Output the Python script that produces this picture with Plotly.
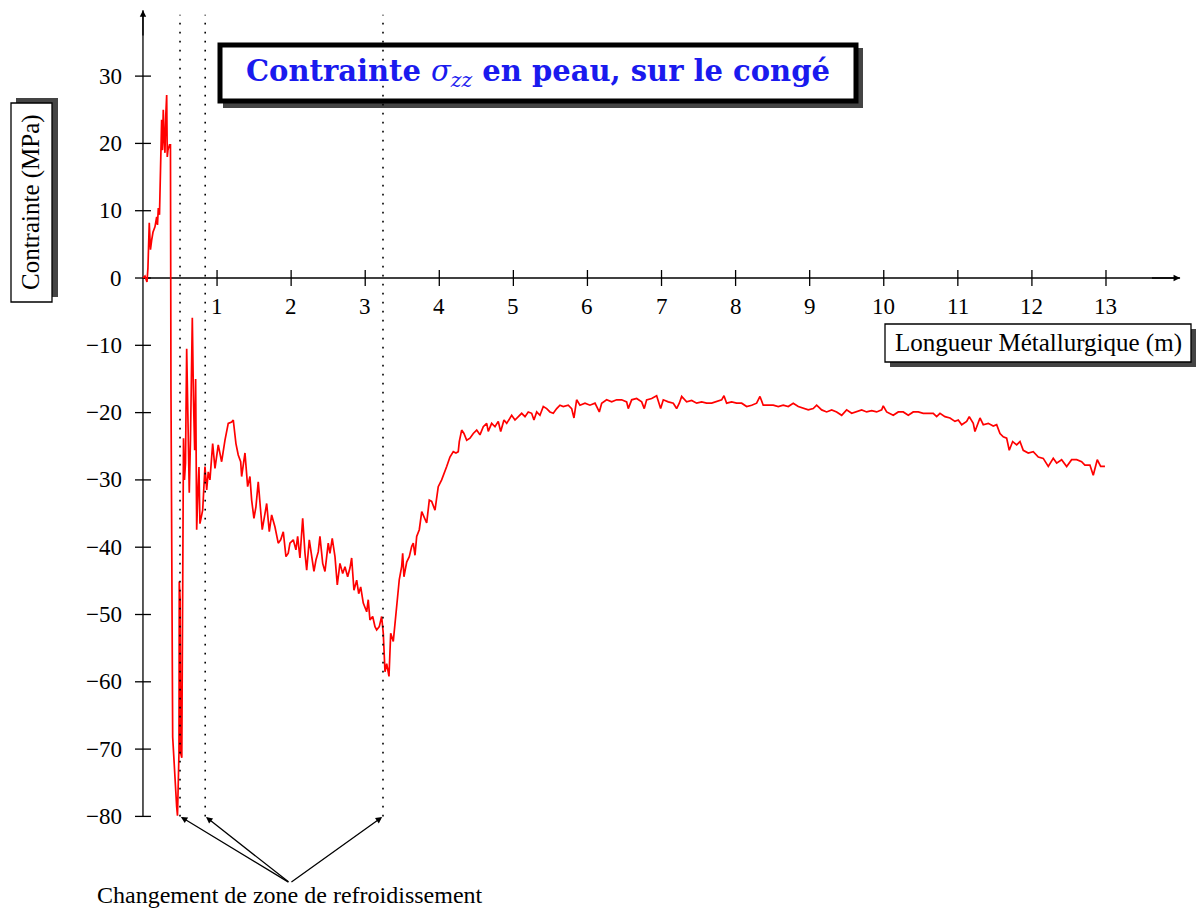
import plotly.graph_objects as go

# ---- measured stress along the metallurgical length ----
# zone A: first metre (secondary cooling entry)
zone_a_x = [0.000, 0.027, 0.054, 0.067, 0.085, 0.101, 0.117, 0.135, 0.162, 0.185,
            0.196, 0.207, 0.223, 0.236, 0.252, 0.263, 0.274, 0.286, 0.297, 0.308,
            0.320, 0.328, 0.337, 0.358, 0.371, 0.378, 0.385, 0.401, 0.455, 0.466,
            0.486, 0.490, 0.502, 0.509, 0.524, 0.533, 0.547, 0.560, 0.574, 0.590,
            0.607, 0.625, 0.641, 0.666, 0.682, 0.698, 0.711, 0.725, 0.742, 0.756]
zone_a_y = [0.0, 0.3, -0.6, 1.5, 8.2, 4.2, 5.6, 6.8, 7.6, 9.1,
            7.9, 10.4, 9.4, 15.3, 23.5, 19.0, 25.0, 20.5, 18.6, 24.2,
            27.2, 18.0, 19.0, 19.8, 19.8, -16.6, -36.0, -68.2, -78.6, -79.9,
            -70.6, -45.1, -47.8, -70.6, -71.3, -38.9, -23.8, -30.0, -27.5, -10.5,
            -21.1, -31.9, -24.1, -5.9, -18.1, -25.6, -15.0, -37.4, -31.5, -28.1]

# zone B: from 0.77 m to the minimum near 3.3 m
zone_b_x = [0.769, 0.806, 0.837, 0.860, 0.881, 0.904, 0.941, 0.972, 1.016, 1.062,
            1.107, 1.151, 1.197, 1.219, 1.255, 1.286, 1.319, 1.332, 1.377, 1.413,
            1.444, 1.467, 1.498, 1.525, 1.556, 1.589, 1.610, 1.647, 1.670, 1.705,
            1.737, 1.782, 1.826, 1.859, 1.894, 1.930, 1.961, 1.984, 2.029, 2.065,
            2.088, 2.119, 2.156, 2.187, 2.210, 2.245, 2.277, 2.308, 2.335, 2.366,
            2.389, 2.426, 2.457, 2.501, 2.524, 2.555, 2.592, 2.623, 2.659, 2.696,
            2.727, 2.763, 2.794, 2.817, 2.848, 2.885, 2.912, 2.939, 2.974, 3.020,
            3.041, 3.064, 3.101, 3.132, 3.155, 3.190, 3.222, 3.244, 3.267, 3.290,
            3.321, 3.344, 3.379, 3.402]
zone_b_y = [-36.5, -34.5, -28.0, -31.5, -28.8, -30.0, -24.6, -28.3, -24.8, -27.3,
            -24.1, -21.6, -21.4, -21.1, -24.6, -26.3, -27.3, -29.5, -26.0, -31.0,
            -29.5, -33.0, -35.7, -34.0, -30.3, -34.5, -37.4, -35.0, -33.5, -37.7,
            -35.2, -37.0, -39.4, -38.9, -37.7, -41.4, -40.9, -39.4, -38.9, -40.4,
            -38.4, -41.6, -35.7, -40.9, -43.4, -38.9, -41.4, -43.6, -41.9, -40.7,
            -38.4, -42.4, -43.6, -39.4, -40.9, -38.7, -41.4, -45.6, -42.4, -43.9,
            -42.9, -44.4, -43.1, -41.6, -46.4, -44.9, -46.9, -45.9, -48.3, -49.6,
            -47.8, -50.8, -50.3, -51.8, -52.3, -51.8, -50.3, -52.8, -58.5, -57.3,
            -59.2, -52.8, -54.0, -51.1]

# zone C: recovery and plateau up to 13 m
zone_c_x = [3.433, 3.460, 3.492, 3.506, 3.523, 3.560, 3.595, 3.627, 3.649, 3.672,
            3.695, 3.730, 3.763, 3.793, 3.830, 3.865, 3.897, 3.942, 3.986, 4.032,
            4.077, 4.100, 4.144, 4.189, 4.225, 4.256, 4.270, 4.302, 4.333, 4.370,
            4.414, 4.459, 4.505, 4.549, 4.594, 4.640, 4.661, 4.707, 4.752, 4.796,
            4.829, 4.873, 4.910, 4.977, 5.022, 5.066, 5.112, 5.157, 5.201, 5.247,
            5.278, 5.315, 5.359, 5.404, 5.450, 5.494, 5.539, 5.585, 5.629, 5.674,
            5.741, 5.787, 5.818, 5.854, 5.899, 5.967, 6.034, 6.102, 6.160, 6.192,
            6.259, 6.327, 6.394, 6.462, 6.529, 6.551, 6.597, 6.664, 6.732, 6.767,
            6.799, 6.867, 6.934, 6.988, 7.024, 7.091, 7.159, 7.204, 7.240, 7.272,
            7.339, 7.407, 7.474, 7.542, 7.609, 7.677, 7.744, 7.812, 7.843, 7.879,
            7.947, 8.014, 8.082, 8.149, 8.217, 8.284, 8.329, 8.373, 8.441, 8.508,
            8.576, 8.643, 8.711, 8.778, 8.846, 8.913, 8.981, 9.048, 9.094, 9.162,
            9.229, 9.297, 9.364, 9.432, 9.499, 9.567, 9.634, 9.702, 9.769, 9.837,
            9.904, 9.972, 9.993, 10.039, 10.128, 10.196, 10.263, 10.331, 10.398, 10.466,
            10.533, 10.601, 10.668, 10.714, 10.759, 10.826, 10.894, 10.961, 11.006, 11.052,
            11.119, 11.154, 11.208, 11.231, 11.276, 11.299, 11.343, 11.411, 11.478, 11.524,
            11.569, 11.613, 11.659, 11.694, 11.740, 11.794, 11.839, 11.883, 11.951, 12.018,
            12.086, 12.153, 12.221, 12.288, 12.334, 12.401, 12.469, 12.536, 12.604, 12.671,
            12.715, 12.783, 12.828, 12.882, 12.928, 12.986]
zone_c_y = [-48.0, -44.8, -42.9, -40.9, -44.4, -42.2, -41.4, -39.9, -39.4, -41.2,
            -38.4, -37.4, -34.7, -35.5, -36.4, -33.0, -33.2, -34.5, -31.0, -30.0,
            -28.8, -28.0, -26.6, -25.8, -26.0, -25.8, -24.3, -22.6, -23.1, -24.1,
            -23.8, -23.1, -22.6, -23.3, -22.1, -21.6, -22.8, -21.6, -22.1, -21.3,
            -22.8, -21.1, -21.6, -20.4, -21.1, -20.6, -20.1, -20.6, -19.9, -20.1,
            -21.1, -19.9, -20.4, -19.1, -19.4, -19.9, -20.1, -19.4, -18.9, -19.1,
            -18.9, -19.4, -20.8, -18.1, -18.9, -18.6, -18.9, -18.6, -19.9, -18.6,
            -18.1, -18.4, -18.1, -18.1, -18.4, -19.4, -18.1, -17.9, -18.4, -19.4,
            -18.1, -17.9, -17.5, -19.4, -18.1, -18.4, -18.6, -19.4, -18.6, -17.6,
            -18.4, -18.2, -18.6, -18.4, -18.6, -18.6, -18.4, -18.1, -17.5, -18.6,
            -18.4, -18.6, -18.6, -19.1, -18.9, -18.6, -17.6, -18.9, -18.9, -18.9,
            -19.1, -18.9, -19.1, -18.6, -19.1, -19.4, -19.6, -19.4, -18.9, -19.6,
            -19.9, -19.6, -19.9, -20.4, -19.6, -20.1, -19.9, -19.6, -19.9, -19.7,
            -19.9, -19.6, -19.0, -19.9, -20.4, -19.9, -19.9, -20.4, -19.9, -19.9,
            -20.1, -20.1, -20.1, -20.6, -20.1, -20.6, -20.8, -21.3, -21.1, -21.8,
            -21.3, -20.6, -21.6, -22.8, -21.6, -20.8, -21.8, -21.6, -22.0, -21.8,
            -23.1, -23.6, -23.8, -25.6, -24.3, -24.8, -24.3, -25.6, -26.0, -25.8,
            -26.6, -26.8, -28.0, -26.8, -27.5, -27.0, -28.0, -27.0, -27.0, -27.3,
            -27.8, -27.8, -29.3, -27.0, -28.0, -28.0]

# cooling zone boundaries (m)
zone_changes = [0.50, 0.84, 3.24]

# axis ticks
x_ticks = list(range(1, 14))
y_ticks = [-80, -70, -60, -50, -40, -30, -20, -10, 0, 10, 20, 30]

x_all = zone_a_x + zone_b_x + zone_c_x
y_all = zone_a_y + zone_b_y + zone_c_y

W, H = 1200, 909
X_RANGE = [-1.930, 14.269]
Y_RANGE = [-93.76, 41.31]
X_END, Y_TOP, Y_BOTTOM = 14.0, 39.8, -80

FONT = "Liberation Serif, DejaVu Serif, serif"
TITLE_FONT = "DejaVu Serif, Liberation Serif, serif"
TXT = 23


def px(x):
    return x / W


def py(y):
    return 1 - y / H


def fmt(v):
    return str(v).replace("-", "\u2212")


fig = go.Figure()
fig.add_trace(go.Scatter(x=x_all, y=y_all, mode="lines",
                         line=dict(color="#ff0000", width=1.7),
                         hoverinfo="skip", showlegend=False))

shapes = []
annotations = []

# title box with shadow
shapes.append(dict(type="rect", xref="paper", yref="paper",
                   x0=px(223), x1=px(863), y0=py(48), y1=py(108),
                   fillcolor="#444444", line=dict(width=0), layer="above"))
shapes.append(dict(type="rect", xref="paper", yref="paper",
                   x0=px(220), x1=px(856), y0=py(45), y1=py(101),
                   fillcolor="white", line=dict(color="black", width=5), layer="above"))

# y-label box (rotated, shadow to the right and up)
shapes.append(dict(type="rect", xref="paper", yref="paper",
                   x0=px(16), x1=px(58), y0=py(98), y1=py(297),
                   fillcolor="#444444", line=dict(width=0), layer="above"))
shapes.append(dict(type="rect", xref="paper", yref="paper",
                   x0=px(11), x1=px(52), y0=py(103), y1=py(302),
                   fillcolor="white", line=dict(color="black", width=1.3), layer="above"))

# x-label box with shadow
shapes.append(dict(type="rect", xref="paper", yref="paper",
                   x0=px(890), x1=px(1196), y0=py(329), y1=py(367),
                   fillcolor="#444444", line=dict(width=0), layer="above"))
shapes.append(dict(type="rect", xref="paper", yref="paper",
                   x0=px(885), x1=px(1191), y0=py(324), y1=py(362),
                   fillcolor="white", line=dict(color="black", width=1.3), layer="above"))

# dotted vertical lines at the cooling zone changes
for c in zone_changes:
    shapes.append(dict(type="line", xref="x", yref="y", x0=c, x1=c,
                       y0=Y_BOTTOM, y1=Y_TOP - 0.7,
                       line=dict(color="black", width=1.6, dash="1.6px,7.4px"),
                       layer="above"))

ppx = W / (X_RANGE[1] - X_RANGE[0])
ppy = H / (Y_RANGE[1] - Y_RANGE[0])

# axes crossing at the origin
shapes.append(dict(type="line", xref="x", yref="y", x0=0, x1=X_END, y0=0, y1=0,
                   line=dict(color="black", width=1.3), layer="below"))
shapes.append(dict(type="line", xref="x", yref="y", x0=0, x1=0, y0=Y_BOTTOM, y1=Y_TOP,
                   line=dict(color="black", width=1.3), layer="below"))

for t in x_ticks:
    shapes.append(dict(type="line", xref="x", yref="y", x0=t, x1=t,
                       y0=-8 / ppy, y1=8 / ppy,
                       line=dict(color="black", width=1.3), layer="below"))
    annotations.append(dict(x=t, y=0, xref="x", yref="y", text=fmt(t),
                            showarrow=False, xanchor="center", yanchor="middle",
                            yshift=-28,
                            font=dict(family=FONT, size=TXT, color="black")))

for t in y_ticks:
    shapes.append(dict(type="line", xref="x", yref="y", x0=-8 / ppx, x1=8 / ppx,
                       y0=t, y1=t,
                       line=dict(color="black", width=1.3), layer="below"))
    annotations.append(dict(x=0, y=t, xref="x", yref="y", text=fmt(t),
                            showarrow=False, xanchor="right", yanchor="middle",
                            xshift=-19,
                            font=dict(family=FONT, size=TXT, color="black")))

# axis arrowheads
annotations.append(dict(x=X_END, y=0, ax=X_END - 0.4, ay=0, xref="x", yref="y",
                        axref="x", ayref="y", text="", showarrow=True,
                        arrowhead=2, arrowsize=1, arrowwidth=1.3, arrowcolor="black"))
annotations.append(dict(x=0, y=Y_TOP, ax=0, ay=Y_TOP - 4, xref="x", yref="y",
                        axref="x", ayref="y", text="", showarrow=True,
                        arrowhead=2, arrowsize=1, arrowwidth=1.3, arrowcolor="black"))

# arrows pointing to the cooling zone changes
note_x, note_y = 1.984, -89.9
for c in zone_changes:
    annotations.append(dict(x=c, y=Y_BOTTOM, ax=note_x, ay=note_y,
                            xref="x", yref="y", axref="x", ayref="y",
                            text="", showarrow=True, arrowhead=2, arrowsize=1,
                            arrowwidth=1.3, arrowcolor="black", standoff=1))
annotations.append(dict(x=px(290), y=py(895), xref="paper", yref="paper",
                        text="Changement de zone de refroidissement",
                        showarrow=False, xanchor="center", yanchor="middle",
                        font=dict(family=FONT, size=24, color="black")))

# title
annotations.append(dict(x=px(538), y=py(73), xref="paper", yref="paper",
                        text="<b>Contrainte </b><i>σ<sub>zz</sub></i><b> en peau, sur le congé</b>",
                        showarrow=False, xanchor="center", yanchor="middle",
                        font=dict(family=TITLE_FONT, size=29, color="#1a1aee")))

# axis titles
annotations.append(dict(x=px(31.5), y=py(202.5), xref="paper", yref="paper",
                        text="Contrainte (MPa)", textangle=-90, showarrow=False,
                        xanchor="center", yanchor="middle",
                        font=dict(family=FONT, size=25, color="black")))
annotations.append(dict(x=px(1038), y=py(343), xref="paper", yref="paper",
                        text="Longueur Métallurgique (m)", showarrow=False,
                        xanchor="center", yanchor="middle",
                        font=dict(family=FONT, size=25, color="black")))

fig.update_layout(
    width=W, height=H,
    margin=dict(l=0, r=0, t=0, b=0),
    paper_bgcolor="white", plot_bgcolor="white",
    xaxis=dict(range=X_RANGE, visible=False, fixedrange=True),
    yaxis=dict(range=Y_RANGE, visible=False, fixedrange=True),
    shapes=shapes, annotations=annotations,
    showlegend=False,
)

fig.write_html("out.html")
